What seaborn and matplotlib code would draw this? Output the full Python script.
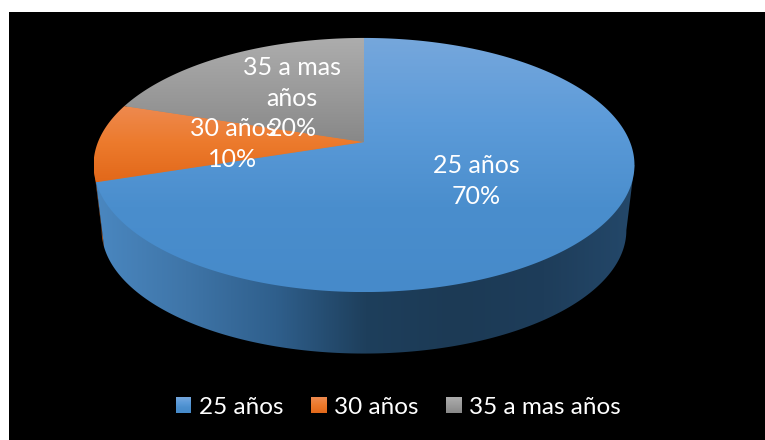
import numpy as np
import matplotlib
matplotlib.use("Agg")
import matplotlib.pyplot as plt
import seaborn as sns
from matplotlib.patches import Patch, Polygon, Rectangle

categories = ["25 años", "30 años", "35 a mas años"]
percent = [70, 10, 20]
slice_labels = ["25 años\n70%", "30 años\n10%", "35 a mas\naños\n20%"]

# pixel centre of each data label
label_xy = [(476, 181), (233, 144), (292, 98)]

# colours, top to bottom of each slice
blue_top = ["#76a7dc", "#5c9bd9", "#4a8ecd", "#468aca"]
orange_top = ["#ee8a50", "#ec7a2c", "#e2681a"]
gray_top = ["#adadad", "#9b9b9b", "#888888"]
wall_blue = ["#4a87c0", "#3f75a8", "#2f5f8c", "#1e3f5c", "#1c3a55", "#1e3d5a", "#24486a"]
wall_orange = ["#b8591a", "#b8591a"]

sns.set_theme(style="white")
plt.rcParams["font.family"] = ["Lato", "DejaVu Sans"]

fig = plt.figure(figsize=(7.65, 4.40), dpi=100, facecolor="white")
ax = fig.add_axes([0, 0, 1, 1])

# pie gives the slice angles, the perspective is applied to them afterwards
wedges, _ = ax.pie(percent, startangle=90, counterclock=False)
angles = [(w.theta1, w.theta2) for w in wedges]
for w in wedges:
    w.set_visible(False)

ax.set_aspect("auto")
ax.set_xlim(0, 765)
ax.set_ylim(440, 0)
ax.axis("on")
ax.set_frame_on(False)
ax.set_xticks([])
ax.set_yticks([])
ax.add_patch(Rectangle((9, 12), 760, 430, color="black", lw=0, zorder=0))

k = 0.181


def project(deg, scale=1.0, apex_y=142.0):
    t = np.radians(deg)
    den = 1 + k * np.sin(t)
    return np.column_stack([364 + scale * 266 * np.cos(t) / den,
                            apex_y - scale * 122.9 * np.sin(t) / den])


def gradient(poly, colors, vertical=True, z=2):
    cmap = sns.blend_palette(colors, as_cmap=True)
    x0, y0 = poly.min(axis=0)
    x1, y1 = poly.max(axis=0)
    g = np.linspace(0, 1, 256)
    g = g.reshape(-1, 1) if vertical else g.reshape(1, -1)
    im = ax.imshow(g, cmap=cmap, extent=(x0, x1, y1, y0), origin="upper",
                   aspect="auto", zorder=z, interpolation="bilinear")
    clip = Polygon(poly, closed=True, transform=ax.transData)
    im.set_clip_path(clip)


def side(t1, t2):
    # upper edge is pulled in under the top face so no seam shows
    a = np.linspace(t1, t2, 200)
    return np.vstack([project(a[:1]), project(a, 0.9), project(a[-1:]),
                      project(a[::-1], 0.97, 208.0)])


t_left = 180 + np.degrees(np.arcsin(k))
t_right = 360 - np.degrees(np.arcsin(k))
cut = angles[0][0] % 360

gradient(side(t_left, cut), wall_orange, vertical=False, z=1)
gradient(side(cut, t_right), wall_blue, vertical=False, z=1)

# underlay so the joins between slices stay free of black
ax.add_patch(Polygon(project(np.linspace(0, 360, 400), 0.99), closed=True,
                     facecolor="#8f8a80", lw=0, zorder=1.5))

top_colors = [blue_top, orange_top, gray_top]
for (t1, t2), colors in zip(angles, top_colors):
    a = np.linspace(t1, t2, 400)
    poly = np.vstack([[[364, 142]], project(a)])
    gradient(poly, colors, z=2)

for (x, y), s in zip(label_xy, slice_labels):
    ax.text(x, y, s, color="white", fontsize=18, ha="center", va="center",
            linespacing=1.4, zorder=4)

handles = [Patch(facecolor=c[1], lw=0) for c in top_colors]
leg = ax.legend(handles, categories, ncol=3, frameon=False, loc="center",
                bbox_to_anchor=(398.5, 407), bbox_transform=ax.transData,
                fontsize=17.5, labelcolor="white", handlelength=0.62, handleheight=0.62,
                handletextpad=0.3, columnspacing=1.16, borderpad=0, borderaxespad=0)

# gradient swatches over the legend handles
fig.canvas.draw()
for h, colors in zip(leg.get_patches(), top_colors):
    box = h.get_window_extent().transformed(ax.transData.inverted())
    rect = np.array([[box.x0, box.y0], [box.x1, box.y0], [box.x1, box.y1], [box.x0, box.y1]])
    gradient(rect, colors, z=6)

ax.set_xlim(0, 765)
ax.set_ylim(440, 0)

fig.savefig("out.png", dpi=100, facecolor="white")
